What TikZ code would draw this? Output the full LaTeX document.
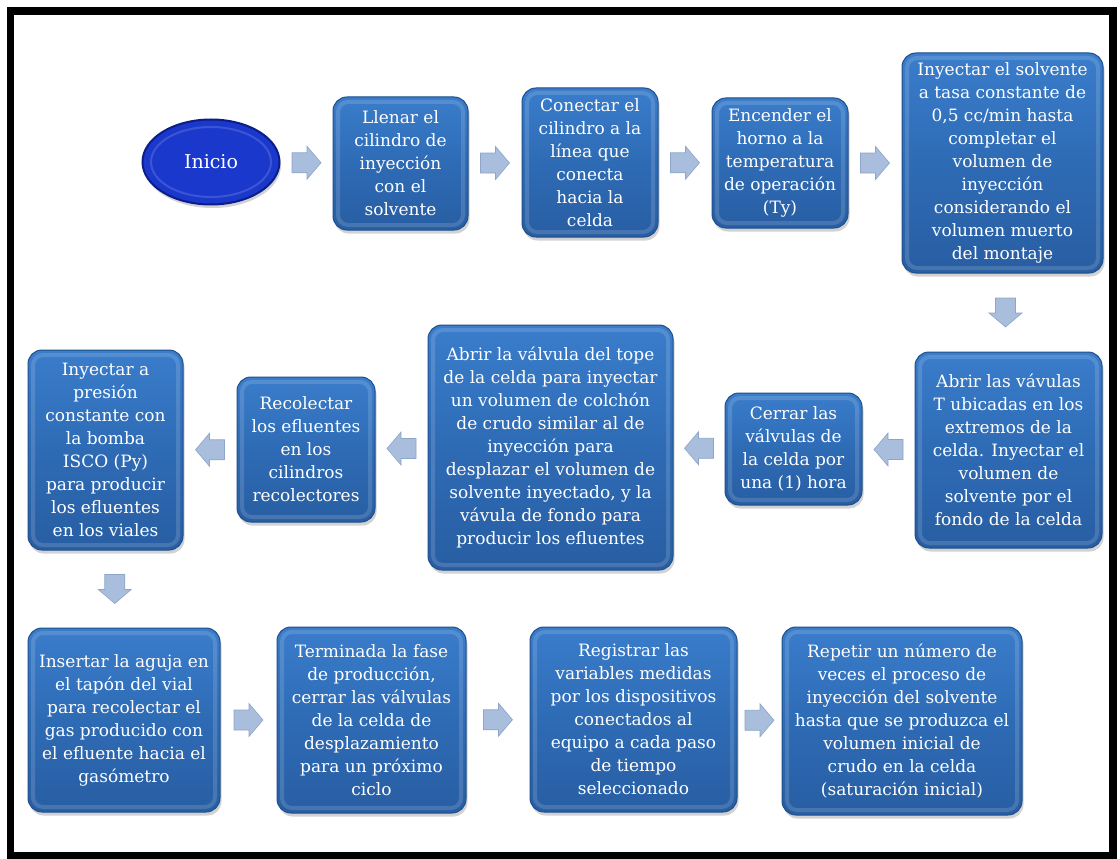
\documentclass[tikz,border=0pt]{standalone}
\usepackage{fontspec}
\newfontfamily\boxfont{DejaVu Serif}
\usetikzlibrary{shapes.geometric,shadows,calc}
\definecolor{boxblue}{HTML}{2E6BB5}
\definecolor{boxtop}{HTML}{3A7DCB}
\definecolor{boxbot}{HTML}{285EA3}
\definecolor{boxedge}{HTML}{1F4F8C}
\definecolor{arrfill}{HTML}{A9BDDC}
\definecolor{arredge}{HTML}{8DA5CA}
\definecolor{ovalblue}{HTML}{1A38CC}
\definecolor{ovaledge}{HTML}{0A1D88}
\tikzset{
  stepbox/.style={rectangle, rounded corners=14pt, draw=boxedge, line width=1pt,
    top color=boxtop, bottom color=boxbot, middle color=boxblue,
    drop shadow={shadow xshift=1.5pt, shadow yshift=-3.5pt, opacity=0.35},
    text=white, align=center, inner sep=0pt,
    font=\boxfont\fontsize{17}{23}\selectfont,
    path picture={\draw[white, opacity=0.14, line width=4pt, rounded corners=10pt]
      ([shift={(5pt,5pt)}]path picture bounding box.south west) rectangle
      ([shift={(-5pt,-5pt)}]path picture bounding box.north east);}},
  startoval/.style={ellipse, fill=ovalblue, draw=ovaledge, line width=2pt,
    text=white, inner sep=0pt, font=\boxfont\fontsize{19}{23}\selectfont,
    drop shadow={shadow xshift=1.5pt, shadow yshift=-3.5pt, opacity=0.35},
    path picture={\draw[white, opacity=0.15, line width=2pt]
      (path picture bounding box.center) ellipse [x radius=60pt, y radius=35pt];}},
  blockarrow/.pic={\draw[fill=arrfill, draw=arredge, line width=0.6pt]
    (-14.5,-10) -- (0.5,-10) -- (0.5,-16.5) -- (14.5,0) -- (0.5,16.5) -- (0.5,10) -- (-14.5,10) -- cycle;}
}
\begin{document}
\begin{tikzpicture}[x=1pt,y=-1pt]
\fill[white] (0,0) rectangle (1120,859);
\useasboundingbox (0,0) rectangle (1120,859);
\draw[line width=7.5pt] (10.5,11) rectangle (1113,855.5);

% row 1
\node[startoval, minimum width=137pt, minimum height=85pt] (start) at (211,162) {Inicio};
\node[stepbox, minimum width=135pt, minimum height=133pt] (n1) at (400.5,163.5)
  {Llenar el\\cilindro de\\inyección\\con el\\solvente};
\node[stepbox, minimum width=136pt, minimum height=149pt] (n2) at (590,162.5)
  {Conectar el\\cilindro a la\\línea que\\conecta\\hacia la\\celda};
\node[stepbox, minimum width=136pt, minimum height=130pt] (n3) at (780,163)
  {Encender el\\horno a la\\temperatura\\de operación\\(Ty)};
\node[stepbox, minimum width=201pt, minimum height=220pt] (n4) at (1002.5,163)
  {Inyectar el solvente\\a tasa constante de\\0,5 cc/min hasta\\completar el\\volumen de\\inyección\\considerando el\\volumen muerto\\del montaje};

% row 2
\node[stepbox, minimum width=187pt, minimum height=196pt] (n5) at (1008.5,450)
  {Abrir las vávulas\\T ubicadas en los\\extremos de la\\celda. Inyectar el\\volumen de\\solvente por el\\fondo de la celda};
\node[stepbox, minimum width=137pt, minimum height=112pt] (n6) at (793.5,449)
  {Cerrar las\\válvulas de\\la celda por\\una (1) hora};
\node[stepbox, minimum width=245pt, minimum height=245pt] (n7) at (550.5,447.5)
  {Abrir la válvula del tope\\de la celda para inyectar\\un volumen de colchón\\de crudo similar al de\\inyección para\\desplazar el volumen de\\solvente inyectado, y la\\vávula de fondo para\\producir los efluentes};
\node[stepbox, minimum width=138pt, minimum height=145pt] (n8) at (306,449.5)
  {Recolectar\\los efluentes\\en los\\cilindros\\recolectores};
\node[stepbox, minimum width=155pt, minimum height=200pt] (n9) at (105.5,450)
  {Inyectar a\\presión\\constante con\\la bomba\\ISCO (Py)\\para producir\\los efluentes\\en los viales};

% row 3
\node[stepbox, minimum width=192pt, minimum height=184pt] (n10) at (124,720)
  {Insertar la aguja en\\el tapón del vial\\para recolectar el\\gas producido con\\el efluente hacia el\\gasómetro};
\node[stepbox, minimum width=189pt, minimum height=186pt] (n11) at (371.5,720)
  {Terminada la fase\\de producción,\\cerrar las válvulas\\de la celda de\\desplazamiento\\para un próximo\\ciclo};
\node[stepbox, minimum width=207pt, minimum height=185pt] (n12) at (633.5,719.5)
  {Registrar las\\variables medidas\\por los dispositivos\\conectados al\\equipo a cada paso\\de tiempo\\seleccionado};
\node[stepbox, minimum width=240pt, minimum height=188pt] (n13) at (902,721)
  {Repetir un número de\\veces el proceso de\\inyección del solvente\\hasta que se produzca el\\volumen inicial de\\crudo en la celda\\(saturación inicial)};

% connectors (block arrows)
\pic at ($(start.east)!0.5!(n1.west)$) {blockarrow};
\pic at ($(n1.east)!0.5!(n2.west)$) {blockarrow};
\pic at ($(n2.east)!0.5!(n3.west)$) {blockarrow};
\pic at ($(n3.east)!0.5!(n4.west)$) {blockarrow};
\pic[rotate=-90] at ($(n4.south)!0.5!(n5.north)$) {blockarrow};
\pic[rotate=180] at ($(n5.west)!0.5!(n6.east)$) {blockarrow};
\pic[rotate=180] at ($(n6.west)!0.5!(n7.east)$) {blockarrow};
\pic[rotate=180] at ($(n7.west)!0.5!(n8.east)$) {blockarrow};
\pic[rotate=180] at ($(n8.west)!0.5!(n9.east)$) {blockarrow};
\pic[rotate=-90] at ($(n9.south)!0.5!(n10.north)$) {blockarrow};
\pic at ($(n10.east)!0.5!(n11.west)$) {blockarrow};
\pic at ($(n11.east)!0.5!(n12.west)$) {blockarrow};
\pic at ($(n12.east)!0.5!(n13.west)$) {blockarrow};
\end{tikzpicture}
\end{document}
